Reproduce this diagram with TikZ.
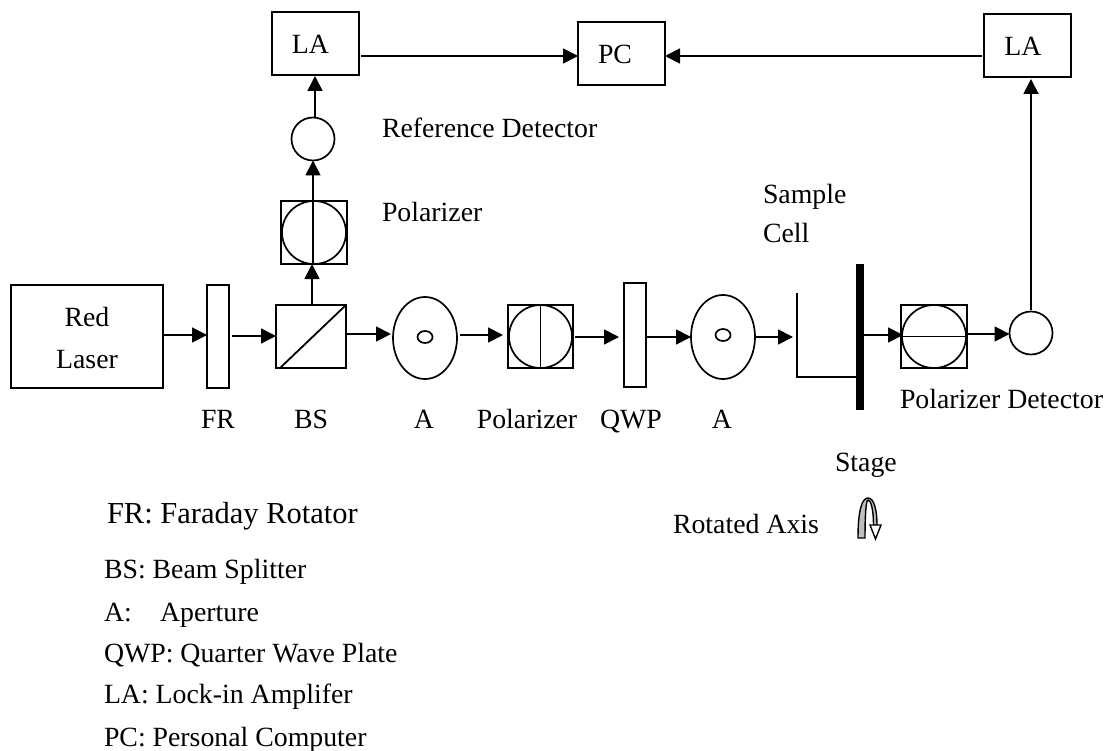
\documentclass[tikz,border=0pt]{standalone}
\usepackage{fontspec}
\setmainfont{Liberation Serif}
\usetikzlibrary{arrows.meta,shapes.geometric}
\tikzset{
  x=1pt,y=-1pt,
  every node/.style={inner sep=0pt,outer sep=0pt},
  part/.style={draw=black,line width=1.8pt,rectangle,anchor=north west},
  round/.style={draw=black,line width=1.7pt,ellipse},
  big/.style={font=\fontsize{27.8}{27.8}\selectfont},
  lbl/.style={big,anchor=base west},
  lblb/.style={big,anchor=base},
  legbig/.style={font=\fontsize{30.5}{30.5}\selectfont,anchor=base west},
  leg/.style={big,anchor=base west},
  arr/.style={line width=1.8pt,-{Triangle[length=15pt,width=15pt]}},
  ln/.style={line width=1.8pt},
}
\begin{document}
\begin{tikzpicture}
\useasboundingbox (0,0) rectangle (1107,751);
% boxes
\node[part,minimum width=152pt,minimum height=103pt] (laser) at (11,285) {};
\node[lblb] (lred) at (87,326) {Red};
\node[lblb] (llas) at (87,368) {Laser};
\node[part,minimum width=22pt,minimum height=103pt] (fr) at (207,285) {};
\node[part,minimum width=70pt,minimum height=63pt] (bs) at (276,305) {};
\draw[ln] ([xshift=4pt]bs.south west) -- (bs.north east);
\node[round,minimum width=64pt,minimum height=82pt] (a1) at (425,338) {};
\node[round,minimum width=15pt,minimum height=12pt] (h1) at (425,337) {};
\node[part,minimum width=65pt,minimum height=63pt] (p1) at (508,305) {};
\node[round,minimum width=63pt,minimum height=63pt] (c1) at (p1.center) {};
\draw[ln] (p1.north) -- (p1.south);
\node[part,minimum width=22pt,minimum height=104pt] (qwp) at (624,283) {};
\node[round,minimum width=64pt,minimum height=84pt] (a2) at (723,337) {};
\node[round,minimum width=15pt,minimum height=12pt] (h2) at (723,335) {};
\coordinate (celltop) at (797,293);
\coordinate (cellbot) at (797,377);
\node[fill=black,minimum width=8pt,minimum height=146pt,anchor=north west] (stage) at (856,264) {};
\draw[ln] (celltop) -- (cellbot) -- (cellbot -| stage.west);
\node[part,minimum width=66pt,minimum height=63pt] (p2) at (901,305) {};
\node[round,minimum width=64pt,minimum height=63pt] (c2) at (p2.center) {};
\draw[ln] (p2.west) -- (p2.east);
\node[round,minimum width=43pt,minimum height=43pt] (d2) at (1031,333) {};
\node[part,minimum width=66pt,minimum height=63pt] (p3) at (281,201) {};
\node[round,minimum width=64pt,minimum height=63pt] (c3) at (p3.center) {};
\node[round,minimum width=43pt,minimum height=43pt] (d1) at (313,139) {};
\node[part,minimum width=87pt,minimum height=63pt] (la1) at (272,12) {};
\node[part,minimum width=87pt,minimum height=63pt] (pc) at (578,22) {};
\node[part,minimum width=87pt,minimum height=63pt] (la2) at (984,14) {};
\node[lblb] (tla1) at (310.5,54) {LA};
\node[lblb] (tpc) at (615,64) {PC};
\node[lblb] (tla2) at (1023,56) {LA};
% horizontal beam
\draw[arr] (laser.east |- 0,335) -- (fr.west |- 0,335);
\draw[arr] ([xshift=3pt]fr.east |- 0,336) -- (bs.west |- 0,336);
\draw[arr] (bs.east |- 0,334) -- ([xshift=-2pt]a1.west |- 0,334);
\draw[arr] ([xshift=3pt]a1.east |- 0,335) -- ([xshift=-5pt]p1.west |- 0,335);
\draw[arr] ([xshift=2pt]p1.east |- 0,337) -- ([xshift=-5pt]qwp.west |- 0,337);
\draw[arr] (qwp.east |- 0,337) -- (a2.west |- 0,337);
\draw[arr] (a2.east |- 0,337) -- ([xshift=-4pt]celltop |- 0,337);
\draw[arr] (stage.east |- 0,335) -- ([xshift=2pt]p2.west |- 0,335);
\draw[arr] (p2.east |- 0,334) -- (d2.west |- 0,334);
% vertical
\draw[arr] (bs.north -| 312,0) -- (p3.south -| 312,0);
\draw[arr] (p3.south -| 313,0) -- (d1.south -| 313,0);
\draw[arr] (d1.north -| 315,0) -- ([yshift=-1pt]la1.south -| 315,0);
\draw[arr] ([xshift=2pt]la1.east |- 0,56) -- (pc.west |- 0,56);
\draw[arr] ([xshift=-2pt]la2.west |- 0,56) -- (pc.east |- 0,56);
\draw[arr] ([yshift=2pt]d2.north) -- ([yshift=-2pt]la2.south -| d2.north);
% labels
\node[lbl] (t1) at (382,138) {Reference Detector};
\node[lbl] (t2) at (382,222) {Polarizer};
\node[lbl] (t3) at (763,204) {Sample};
\node[lbl] (t4) at (763,243) {Cell};
\node[lblb] (t5) at (218,428) {FR};
\node[lblb] (t6) at (311,428) {BS};
\node[lblb] (t7) at (424,428) {A};
\node[lblb] (t8) at (527,428) {Polarizer};
\node[lblb] (t9) at (631,428) {QWP};
\node[lblb] (t10) at (722,428) {A};
\node[lbl] (t11) at (900,408) {Polarizer Detector};
\node[lbl] (t12) at (835,471) {Stage};
\node[lbl] (t13) at (673,533) {Rotated Axis};
% legend
\node[legbig] (g1) at (107,523) {FR: Faraday Rotator};
\node[leg] (g2) at (104,578) {BS: Beam Splitter};
\node[leg] (g3) at (104,621) {A:\hspace{28.3pt}Aperture};
\node[leg] (g4) at (104,662) {QWP: Quarter Wave Plate};
\node[leg] (g5) at (104,703) {LA: Lock-in Amplifer};
\node[leg] (g6) at (104,746) {PC: Personal Computer};
% rotation icon
\draw[line width=1.4pt,fill=black!25] (858,538) .. controls (858,510) and (862,498) .. (868,498)
  .. controls (874,498) and (877,510) .. (877,525) -- (873.5,525)
  .. controls (873.5,510) and (871,500) .. (868,500)
  .. controls (866,500) and (865,515) .. (865,538) -- cycle;
\draw[line width=1.4pt,fill=white,line join=miter] (870,525) -- (881,525) -- (875.5,539) -- cycle;
\end{tikzpicture}
\end{document}
